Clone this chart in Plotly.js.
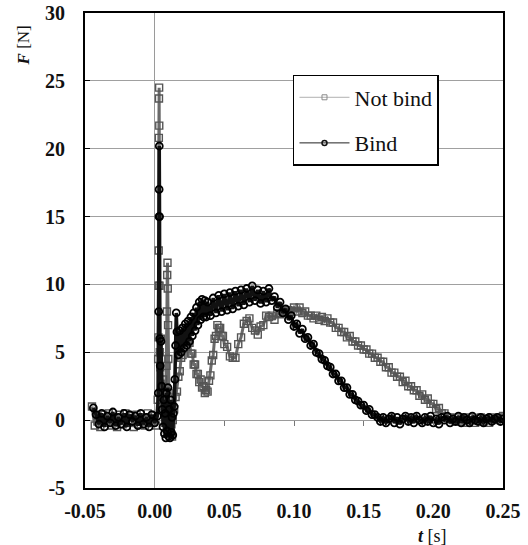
<!DOCTYPE html>
<html>
<head>
<meta charset="utf-8">
<script src="https://cdn.plot.ly/plotly-3.0.1.min.js"></script>
<style>
html,body{margin:0;padding:0;background:#fff;}
#chart{width:528px;height:545px;}
</style>
</head>
<body>
<div id="chart"></div>
<script>
// ---- Data ----
var seriesNames = ["Not bind", "Bind"];

var tNotBind = [
-0.045,-0.043,-0.041,-0.039,-0.037,-0.035,-0.033,-0.031,-0.029,-0.027,-0.025,-0.023,-0.021,-0.019,-0.017,-0.015,-0.013,-0.011,-0.009,-0.007,-0.005,-0.003,-0.001,0.001,
0.0022,0.0025,0.0027,0.0028,0.0029,0.0030,0.0031,0.0032,0.0033,0.0035,0.0037,0.0040,0.0045,0.0050,0.0055,0.0060,0.0065,0.0070,0.0075,0.0080,0.0085,0.0088,0.0090,0.0092,0.0094,0.0096,0.0098,0.0100,0.0105,0.0110,0.0115,0.0120,0.0125,
0.013,0.014,0.015,0.016,0.017,0.018,0.019,0.020,0.021,0.022,0.023,0.024,0.025,0.026,0.027,0.028,0.029,0.030,0.031,0.032,0.033,0.034,0.035,0.036,0.037,0.038,0.039,0.040,0.041,0.042,0.043,0.044,0.045,0.046,0.047,0.048,0.049,0.050,
0.052,0.054,0.056,0.058,0.060,0.062,0.064,0.066,0.068,0.070,0.072,0.074,0.076,0.078,0.080,0.082,0.084,0.086,0.088,0.090,
0.092,0.094,0.096,0.098,0.100,0.102,0.104,0.106,0.108,0.110,0.112,0.114,0.116,0.118,0.120,0.122,0.124,0.126,0.128,0.130,
0.132,0.134,0.136,0.138,0.140,0.142,0.144,0.146,0.148,0.150,0.152,0.154,0.156,0.158,0.160,0.162,0.164,0.166,0.168,0.170,
0.172,0.174,0.176,0.178,0.180,0.182,0.184,0.186,0.188,0.190,0.192,0.194,0.196,0.198,0.200,0.202,0.204,0.206,0.208,0.210,
0.212,0.214,0.216,0.218,0.220,0.222,0.224,0.226,0.228,0.230,0.232,0.234,0.236,0.238,0.240,0.242,0.244,0.246,0.248,0.250
];
var fNotBind = [
1.0,-0.4,0.3,-0.5,0.4,-0.2,0.5,-0.4,0.2,-0.5,0.4,-0.3,0.5,-0.2,0.3,-0.5,0.4,-0.3,0.2,-0.4,0.5,-0.2,0.3,-0.4,
1.5,4.5,6.1,9.9,12.5,20.8,23.7,24.5,21.7,9.9,5.0,3.9,6.0,2.4,1.7,3.0,1.0,2.0,0.5,1.5,4.0,8.0,10.7,11.6,9.7,7.0,4.5,2.0,-0.5,0.5,-1.0,-0.3,-1.2,
0.0,0.8,1.7,2.1,3.2,3.6,4.6,4.8,5.8,5.8,6.4,5.8,5.7,4.9,4.9,4.1,4.1,3.4,3.4,2.8,3.0,2.4,2.5,2.0,2.2,2.1,2.9,3.3,4.4,4.8,6.0,6.2,7.0,6.8,6.8,6.2,6.2,5.6,
5.4,4.7,4.6,4.6,5.6,6.1,7.1,7.3,7.5,6.8,6.6,6.3,6.9,7.0,7.7,7.6,7.7,7.4,7.9,7.8,
8.0,7.9,8.1,8.0,8.3,8.0,8.3,7.9,8.0,7.7,7.7,7.5,7.7,7.4,7.6,7.3,7.5,7.2,7.2,6.8,
6.8,6.5,6.5,6.1,6.2,5.8,5.8,5.5,5.5,5.2,5.2,4.9,4.9,4.6,4.6,4.3,4.3,3.9,3.9,3.5,
3.5,3.2,3.2,2.8,2.9,2.5,2.5,2.2,2.2,1.8,1.9,1.5,1.6,1.2,1.2,0.8,0.9,0.5,0.5,0.2,
0.2,0.0,-0.1,0.2,-0.1,0.1,-0.2,0.2,0.0,-0.2,0.1,0.2,-0.1,0.1,-0.2,0.2,0.0,0.1,0.2,0.3
];

var tBind = [
-0.044,-0.042,-0.040,-0.038,-0.036,-0.034,-0.032,-0.030,-0.028,-0.026,-0.024,-0.022,-0.020,-0.018,-0.016,-0.014,-0.012,-0.010,-0.008,-0.006,-0.004,-0.002,0.000,0.002,
0.0026,0.0029,0.0031,0.0032,0.0033,0.0035,0.0037,0.0040,0.0045,0.0050,0.0055,0.0060,0.0065,0.0070,0.0075,0.0080,0.0085,0.0090,0.0095,0.0100,0.0105,0.0110,0.0115,0.0120,0.0125,0.0130,0.0135,0.0140,0.0145,0.0150,0.0155,0.0160,
0.017,0.018,0.019,0.020,0.021,0.022,0.023,0.024,0.025,0.026,0.027,0.028,0.029,0.030,0.031,0.032,0.033,0.034,0.035,0.036,0.037,0.038,
0.040,0.042,0.044,0.046,0.048,0.050,0.052,0.054,0.056,0.058,0.060,0.062,0.064,0.066,0.068,0.070,0.072,0.074,0.076,0.078,
0.080,0.082,0.084,0.086,0.088,0.090,0.092,0.094,0.096,0.098,0.100,0.102,0.104,0.106,0.108,0.110,0.112,0.114,0.116,0.118,
0.120,0.122,0.124,0.126,0.128,0.130,0.132,0.134,0.136,0.138,0.140,0.142,0.144,0.146,0.148,0.150,0.152,0.154,0.156,0.158,
0.160,0.162,0.164,0.166,0.168,0.170,0.172,0.174,0.176,0.178,0.180,0.182,0.184,0.186,0.188,0.190,0.192,0.194,0.196,0.198,
0.200,0.202,0.204,0.206,0.208,0.210,0.212,0.214,0.216,0.218,0.220,0.222,0.224,0.226,0.228,0.230,0.232,0.234,0.236,0.238,
0.240,0.242,0.244,0.246,0.248,0.250
];
var fBind = [
0.9,0.4,-0.3,0.5,-0.5,0.3,-0.2,0.6,-0.4,0.2,-0.3,0.5,-0.5,0.4,-0.1,0.3,-0.4,0.5,-0.3,0.2,-0.5,0.4,-0.2,0.3,
2.0,8.0,15.0,17.0,20.2,15.0,6.0,4.0,5.8,2.5,0.8,-0.5,1.5,-1.0,0.5,-1.3,2.0,-0.8,2.4,-1.2,0.8,-1.3,1.5,-0.9,0.2,-1.1,0.5,1.0,3.0,5.5,7.9,6.5,
4.8,6.6,5.0,6.8,5.3,7.1,5.5,7.3,5.8,7.6,6.2,7.9,6.6,8.3,7.0,8.7,7.4,8.9,7.6,8.8,7.6,8.7,
7.7,9.0,7.9,9.2,8.0,9.3,8.1,9.4,8.2,9.5,8.4,9.6,8.5,9.7,8.7,9.9,8.8,9.6,8.6,9.5,
8.7,9.7,8.8,9.1,8.3,8.7,7.9,8.2,7.4,7.7,6.9,7.1,6.4,6.7,6.0,6.1,5.5,5.6,5.0,4.9,
4.5,4.4,4.0,3.9,3.4,3.4,2.9,2.9,2.4,2.4,1.9,1.9,1.5,1.4,1.1,1.1,0.7,0.8,0.4,0.4,
0.2,-0.1,0.2,-0.2,0.1,0.3,-0.2,0.2,-0.3,0.1,0.3,-0.1,0.2,-0.2,0.3,0.0,-0.2,0.2,-0.1,0.3,
-0.2,0.1,-0.3,0.2,0.0,0.3,-0.2,0.1,-0.1,0.3,-0.2,0.2,0.0,-0.2,0.3,0.0,-0.1,0.2,-0.2,0.1,
0.2,-0.1,0.1,0.2,-0.1,0.1
];

var xTicks = [-0.05, 0.00, 0.05, 0.10, 0.15, 0.20, 0.25];
var xTickText = ["-0.05", "0.00", "0.05", "0.10", "0.15", "0.20", "0.25"];
var yTicks = [-5, 0, 5, 10, 15, 20, 25, 30];
var yTickText = ["-5", "0", "5", "10", "15", "20", "25", "30"];

var serif = "Liberation Serif, Times New Roman, serif";

var traces = [
  // data traces (dense measured curves)
  {
    x: tNotBind, y: fNotBind, name: seriesNames[0], type: "scatter", mode: "lines+markers",
    line: {color: "#6a6a6a", width: 3},
    marker: {symbol: "square-open", size: 7, color: "#555555", line: {width: 1.4, color: "#555555"}},
    showlegend: false
  },
  {
    x: tBind, y: fBind, name: seriesNames[1], type: "scatter", mode: "lines+markers",
    line: {color: "#111111", width: 3.5},
    marker: {symbol: "circle-open", size: 7, color: "#000000", line: {width: 1.8, color: "#000000"}},
    showlegend: false
  },
  // legend entries (same series, legend styling only)
  {
    x: [null], y: [null], name: seriesNames[0], type: "scatter", mode: "lines+markers",
    line: {color: "#b0b0b0", width: 1},
    marker: {symbol: "square-open", size: 5, color: "#8a8a8a", line: {width: 1, color: "#8a8a8a"}},
    legendgroup: "a", hoverinfo: "skip"
  },
  {
    x: [null], y: [null], name: seriesNames[1], type: "scatter", mode: "lines+markers",
    line: {color: "#222222", width: 1},
    marker: {symbol: "circle-open", size: 5, color: "#111111", line: {width: 1.5, color: "#111111"}},
    legendgroup: "b", hoverinfo: "skip"
  },
  {
    x: [], y: [], xaxis: "x2", yaxis: "y", showlegend: false, hoverinfo: "skip", type: "scatter", mode: "markers"
  }
];

var layout = {
  width: 528, height: 545,
  margin: {l: 85, r: 25, t: 13, b: 57},
  paper_bgcolor: "#ffffff", plot_bgcolor: "#ffffff",
  font: {family: serif, color: "#111"},
  showlegend: true,
  legend: {
    x: 0.4976, y: 0.8695, xanchor: "left", yanchor: "top",
    bgcolor: "#ffffff", bordercolor: "#000000", borderwidth: 1.5,
    font: {family: serif, size: 22, color: "#111"},
    traceorder: "grouped", tracegroupgap: 14, itemwidth: 50
  },
  xaxis: {
    range: [-0.05, 0.25], tickvals: xTicks, ticktext: xTickText,
    showgrid: false, zeroline: true, zerolinecolor: "#9a9a9a", zerolinewidth: 1.2,
    showline: true, mirror: true, linecolor: "#000", linewidth: 1.8,
    ticks: "", ticklabelstandoff: 4,
    tickfont: {family: serif, size: 20, color: "#111", weight: "bold"}
  },
  xaxis2: {
    range: [-0.05, 0.25], overlaying: "x", anchor: "free", position: 5/35, side: "bottom",
    tickvals: [0.05, 0.10, 0.15, 0.20], ticks: "outside", ticklen: 5, tickwidth: 1, tickcolor: "#777",
    showticklabels: false, showline: false, showgrid: false, zeroline: false
  },
  yaxis: {
    range: [-5, 30], tickvals: yTicks, ticktext: yTickText,
    showgrid: true, gridcolor: "#a0a0a0", gridwidth: 1,
    zeroline: true, zerolinecolor: "#9a9a9a", zerolinewidth: 1.2,
    showline: true, mirror: true, linecolor: "#000", linewidth: 1.8,
    ticks: "inside", ticklen: 5, tickcolor: "#000", tickwidth: 1,
    ticklabelstandoff: 14,
    tickfont: {family: serif, size: 20, color: "#111", weight: "bold"}
  },
  annotations: [
    {text: "<b><i>F</i></b> [N]", xref: "paper", yref: "paper", x: -0.148, y: 0.932,
     xanchor: "center", yanchor: "middle", textangle: -90, showarrow: false,
     font: {family: serif, size: 17, color: "#111"}},
    {text: "<b><i>t</i></b> [s]", xref: "paper", yref: "paper", x: 0.832, y: -0.1,
     xanchor: "center", yanchor: "middle", showarrow: false,
     font: {family: serif, size: 18, color: "#111"}}
  ]
};

Plotly.newPlot("chart", traces, layout, {displayModeBar: false, responsive: false});
</script>
</body>
</html>
